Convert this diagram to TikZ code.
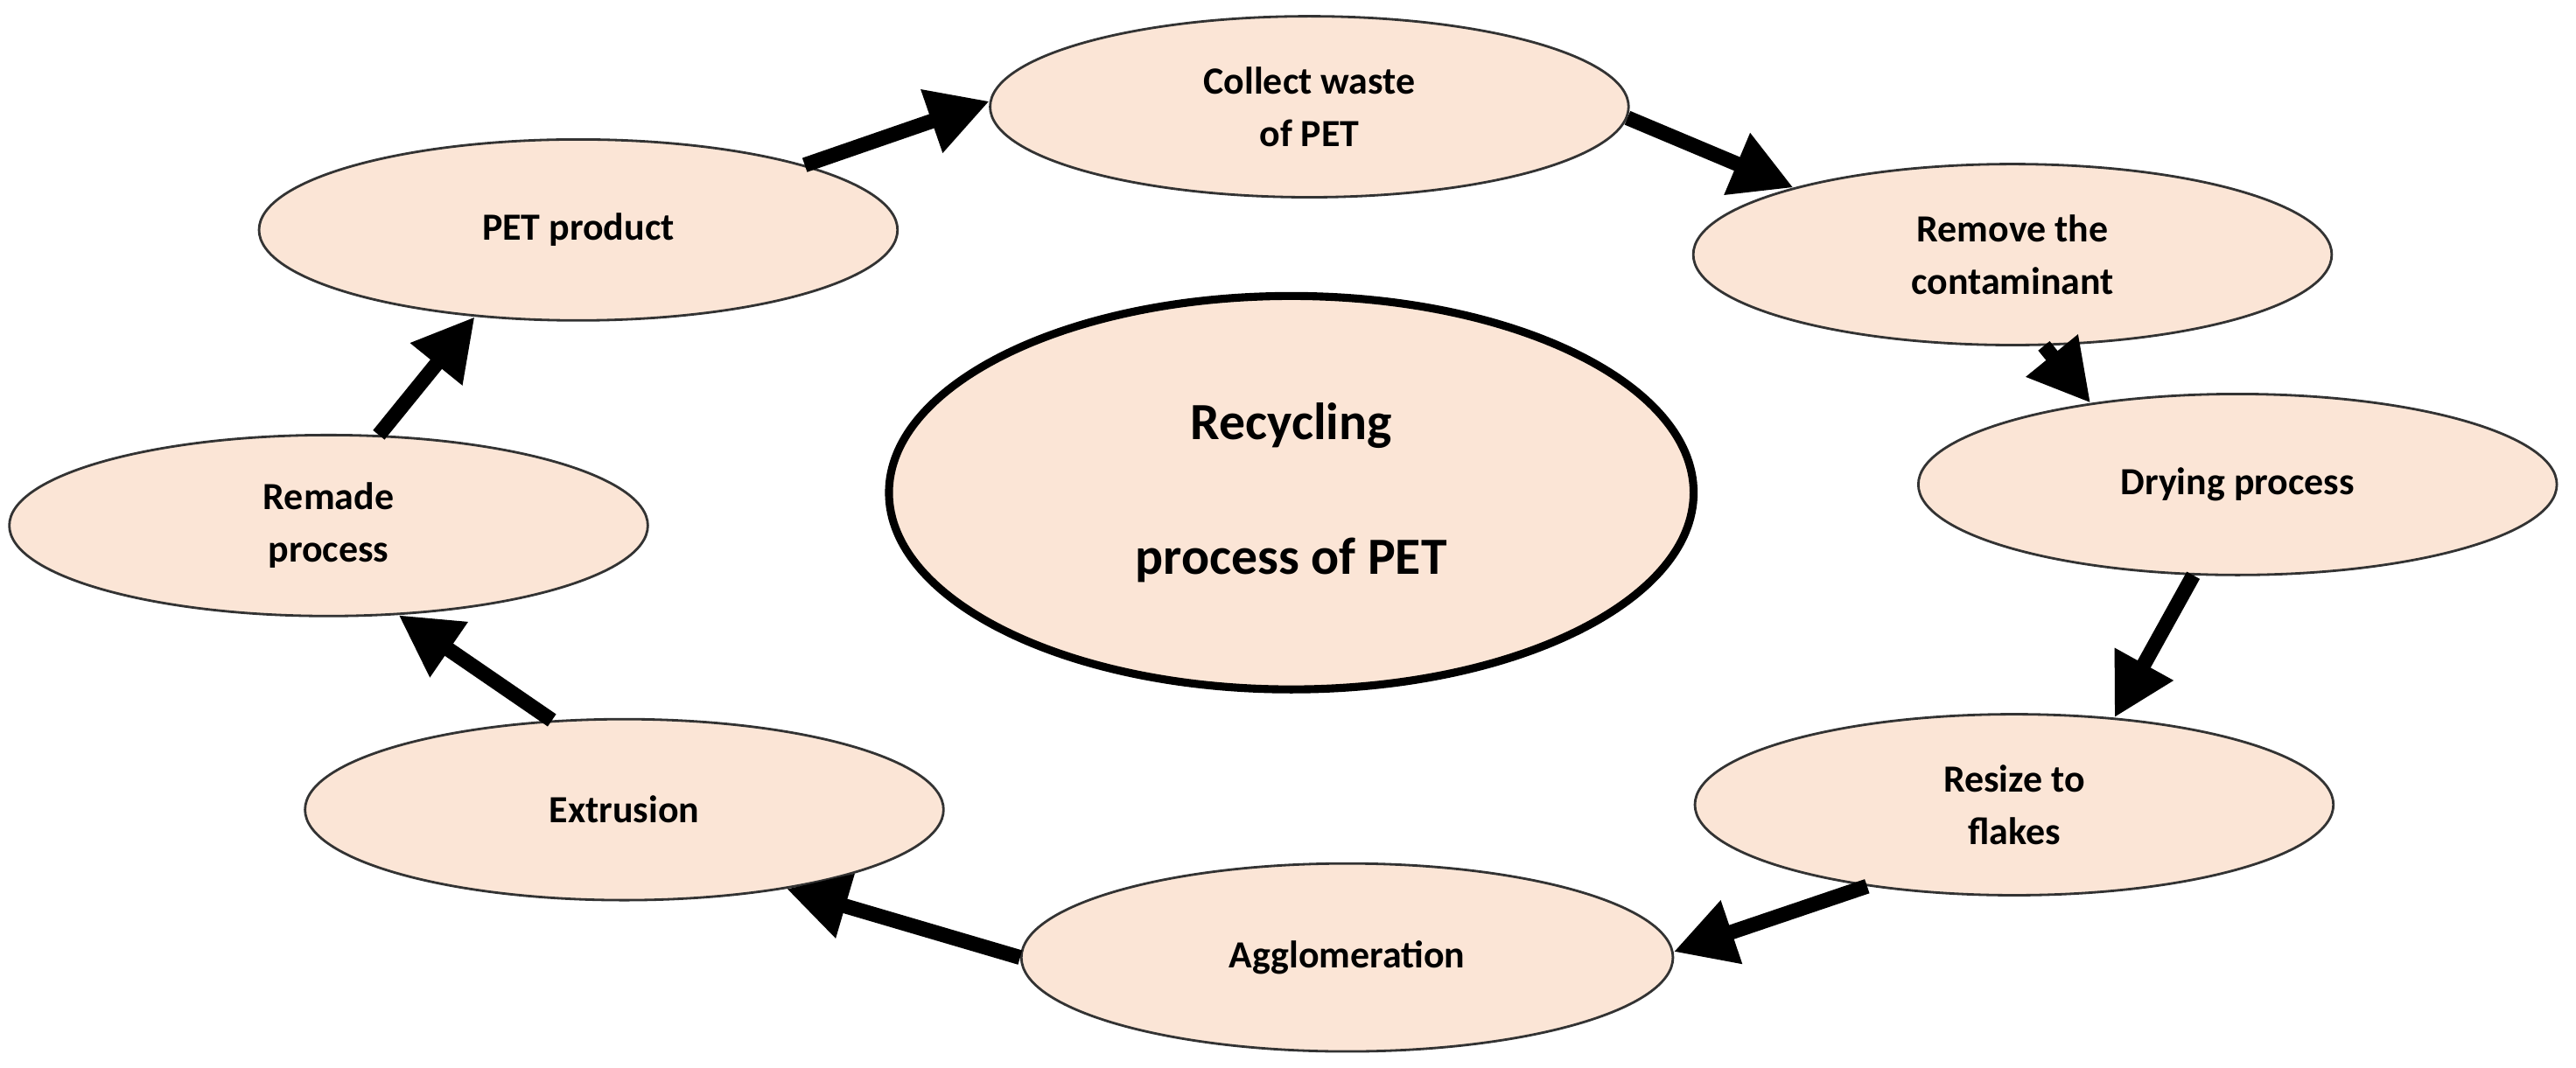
\documentclass[tikz,border=0pt]{standalone}
\usepackage{fontspec}
\setmainfont{Carlito}
\usetikzlibrary{shapes.geometric,arrows.meta}
\definecolor{peach}{HTML}{FBE5D6}
\begin{document}
\begin{tikzpicture}[x=0.018776cm,y=-0.018776cm,
  st/.style={ellipse,draw=black!80,line width=0.8pt,fill=peach,minimum width=7.3cm,minimum height=2.07cm,align=center,font=\fontsize{12.5}{17}\selectfont\bfseries},
  ar/.style={line width=0.17cm,-{Triangle[width=0.72cm,length=0.7cm]}}]
\useasboundingbox (0,0) rectangle (1568,650);
\node[st] (c) at (797,65) {Collect waste\\of PET};
\node[st] (r) at (1225,155) {Remove the\\contaminant};
\node[st] (d) at (1362,295) {Drying process};
\node[st] (s) at (1226,490) {Resize to\\flakes};
\node[st,minimum width=7.45cm,minimum height=2.15cm] (a) at (820,583) {Agglomeration};
\node[st] (e) at (380,493) {Extrusion};
\node[st] (m) at (200,320) {Remade\\process};
\node[st] (p) at (352,140) {PET product};
\node[ellipse,draw=black,line width=2.6pt,fill=peach,minimum width=9.2cm,minimum height=4.5cm,align=center,font=\fontsize{17}{44}\selectfont\bfseries] (k) at (786,300) {Recycling\\process of PET};
\draw[ar] (p.16) -- (c.179);
\draw[ar] (c.-2) -- (r.163);
\draw[ar] (r.-71) -- (d.151);
\draw[ar] (d.-116) -- (s.41);
\draw[ar] (s.209) -- (a.1);
\draw[ar] (a.180) -- (e.-26);
\draw[ar] (e.129) -- (m.-52);
\draw[ar] (m.61) -- (p.220);
\end{tikzpicture}
\end{document}
